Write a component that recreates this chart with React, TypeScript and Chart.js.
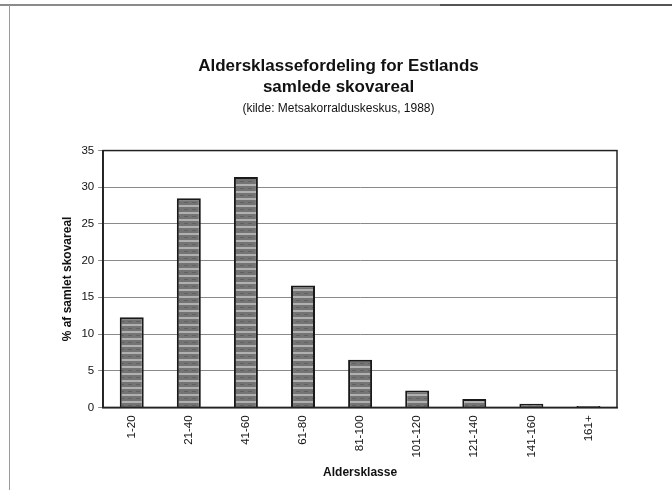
import React, { useEffect, useRef } from "react";
import { Chart, registerables } from "chart.js";

Chart.register(...registerables);

const categories = ["1-20", "21-40", "41-60", "61-80", "81-100", "101-120", "121-140", "141-160", "161+"];
const shares = [12.3, 28.5, 31.4, 16.6, 6.5, 2.3, 1.15, 0.5, 0.2];
const yTicks = [0, 5, 10, 15, 20, 25, 30, 35];
const titleLines = ["Aldersklassefordeling for Estlands", "samlede skovareal"];
const subtitleText = "(kilde: Metsakorralduskeskus, 1988)";
const yTitle = "% af samlet skovareal";
const xTitle = "Aldersklasse";

const FONT = "'Liberation Sans', Arial, sans-serif";

function makePattern(): CanvasPattern | string {
  const c = document.createElement("canvas");
  c.width = 8;
  c.height = 7;
  const g = c.getContext("2d");
  if (!g) return "#888";
  g.fillStyle = "#747474";
  g.fillRect(0, 0, 8, 7);
  g.fillStyle = "#b0b0b0";
  g.fillRect(0, 2, 8, 2);
  g.fillStyle = "#616161";
  g.fillRect(0, 6, 4, 1);
  const p = g.createPattern(c, "repeat");
  return p || "#888";
}

const framePlugin = {
  id: "frame",
  beforeDraw(chart: any) {
    const ctx = chart.ctx;
    ctx.save();
    ctx.fillStyle = "#ffffff";
    ctx.fillRect(0, 0, chart.width, chart.height);
    ctx.strokeStyle = "#8a8a8a";
    ctx.lineWidth = 2;
    ctx.beginPath();
    ctx.moveTo(0, 5);
    ctx.lineTo(440, 5);
    ctx.stroke();
    ctx.strokeStyle = "#555";
    ctx.beginPath();
    ctx.moveTo(440, 5);
    ctx.lineTo(672, 5);
    ctx.stroke();
    ctx.strokeStyle = "#9a9a9a";
    ctx.lineWidth = 1;
    ctx.beginPath();
    ctx.moveTo(9.5, 5);
    ctx.lineTo(9.5, 490);
    ctx.stroke();
    ctx.restore();
  },
  afterDatasetsDraw(chart: any) {
    const { ctx, chartArea } = chart;
    ctx.save();
    ctx.strokeStyle = "#222";
    ctx.lineWidth = 1.5;
    ctx.strokeRect(chartArea.left, chartArea.top, chartArea.right - chartArea.left, chartArea.bottom - chartArea.top);
    ctx.restore();
  },
};

export default function App() {
  const ref = useRef<HTMLCanvasElement | null>(null);
  useEffect(() => {
    document.body.style.margin = "0";
    if (!ref.current) return;
    const chart = new Chart(ref.current, {
      type: "bar",
      data: {
        labels: categories,
        datasets: [
          {
            data: shares,
            backgroundColor: makePattern() as any,
            borderColor: "#1a1a1a",
            borderWidth: 2,
            categoryPercentage: 1,
            barPercentage: 0.42,
          },
        ],
      },
      plugins: [framePlugin],
      options: {
        animation: false,
        responsive: false,
        maintainAspectRatio: false,
        layout: { padding: { left: 60, right: 55, bottom: 10 } },
        plugins: {
          legend: { display: false },
          tooltip: { enabled: false },
          title: {
            display: true,
            text: titleLines,
            color: "#111",
            font: { family: FONT, size: 17, weight: "bold", lineHeight: 1.24 },
            padding: { top: 56, bottom: 0 },
          },
          subtitle: {
            display: true,
            text: subtitleText,
            color: "#111",
            font: { family: FONT, size: 12, lineHeight: 1.2 },
            padding: { top: 3, bottom: 35 },
          },
        },
        scales: {
          x: {
            grid: { display: false, drawTicks: false },
            border: { color: "#222", width: 1.5 },
            ticks: {
              color: "#111",
              font: { family: FONT, size: 11.5 },
              maxRotation: 90,
              minRotation: 90,
              padding: 8,
            },
            title: {
              display: true,
              text: xTitle,
              color: "#111",
              font: { family: FONT, size: 12, weight: "bold" },
              padding: { top: 0, bottom: 0 },
            },
          },
          y: {
            min: 0,
            max: 35,
            afterBuildTicks(axis: any) {
              axis.ticks = yTicks.map((v) => ({ value: v }));
            },
            grid: { color: "#8a8a8a", lineWidth: 1, tickLength: 5 },
            border: { color: "#222", width: 1.5 },
            ticks: {
              color: "#111",
              font: { family: FONT, size: 11.5 },
              padding: 4,
            },
            title: {
              display: true,
              text: yTitle,
              color: "#111",
              font: { family: FONT, size: 12, weight: "bold" },
              padding: { top: 0, bottom: 3 },
            },
          },
        },
      },
    });
    return () => chart.destroy();
  }, []);
  return <canvas ref={ref} width={672} height={490} style={{ display: "block" }} />;
}
